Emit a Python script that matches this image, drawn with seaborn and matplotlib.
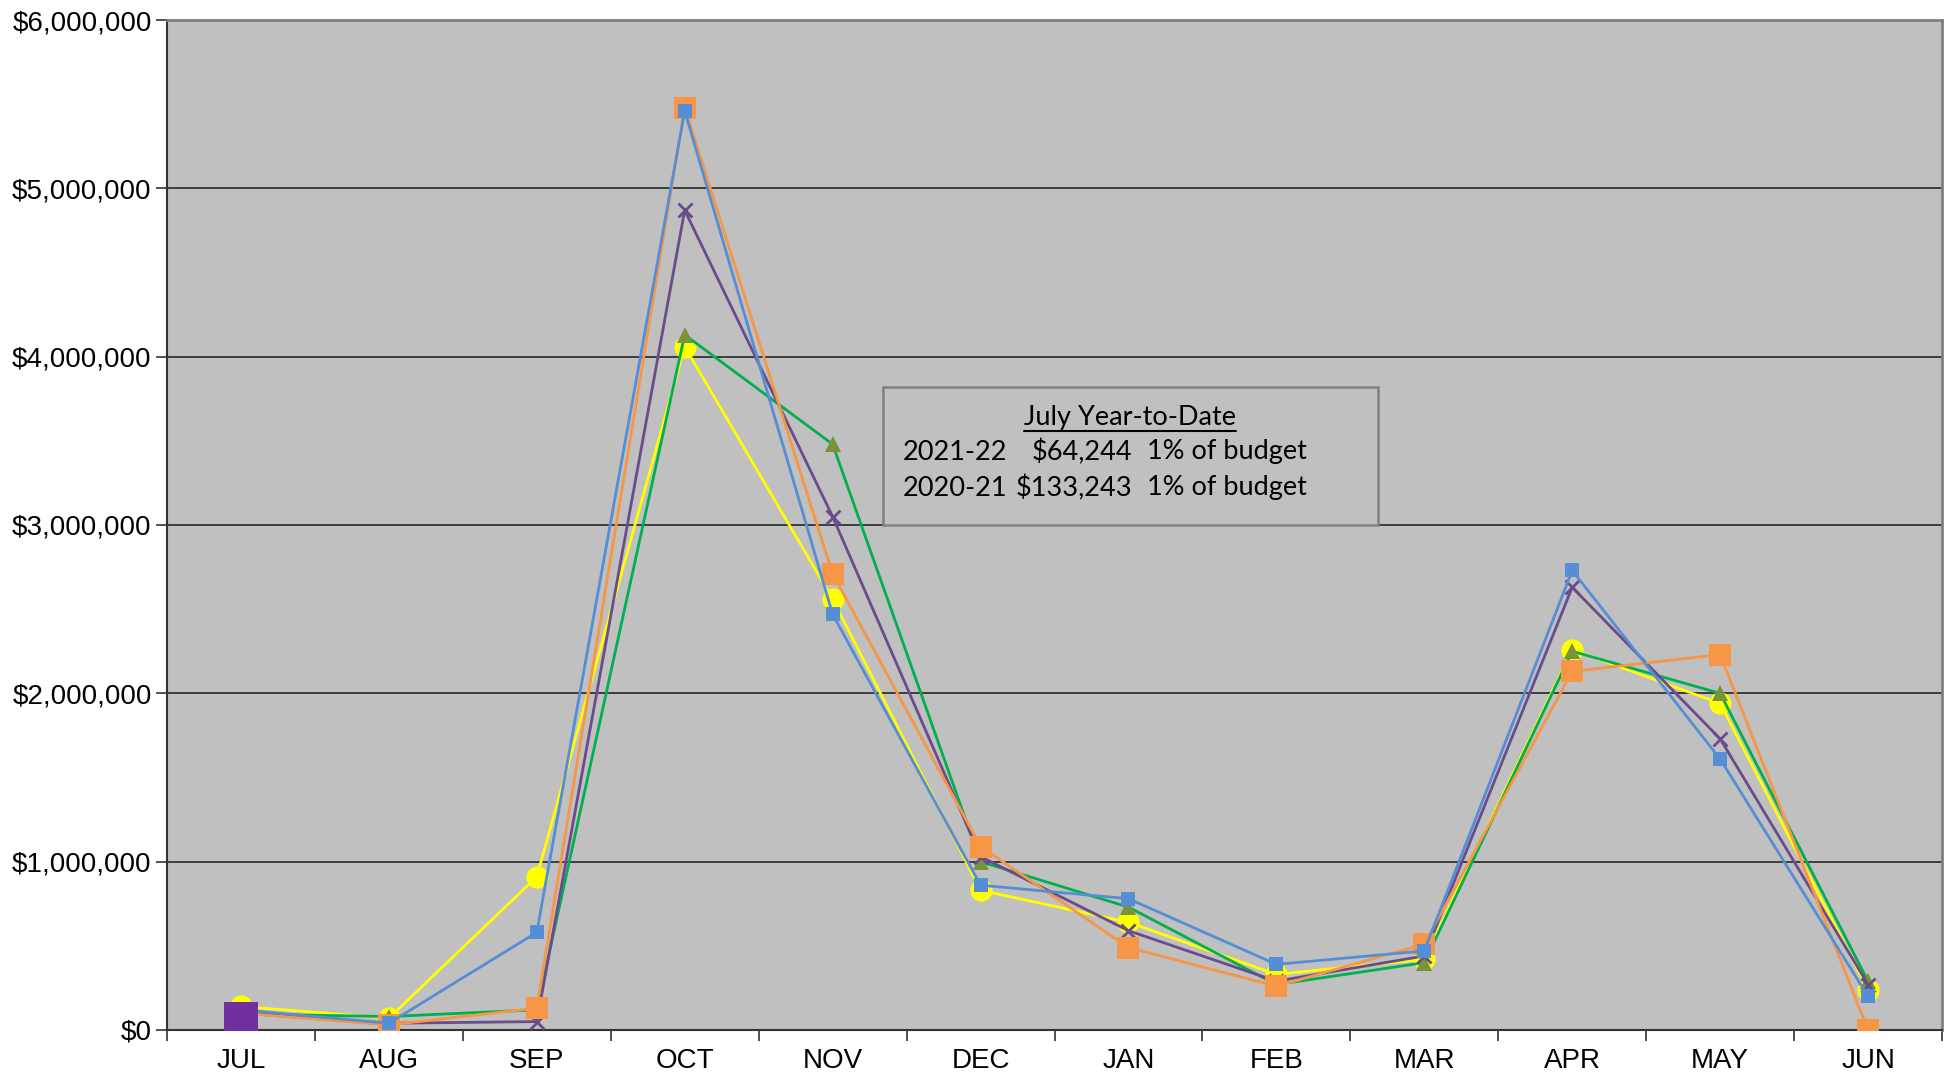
import numpy as np
import pandas as pd
import matplotlib
matplotlib.use("Agg")
import matplotlib.pyplot as plt
import seaborn as sns
from matplotlib.patches import Rectangle
from matplotlib.lines import Line2D
from matplotlib.ticker import FuncFormatter, FixedLocator

months = ["JUL", "AUG", "SEP", "OCT", "NOV", "DEC", "JAN", "FEB", "MAR", "APR", "MAY", "JUN"]

# values in dollars
yellow_circle = [140000, 70000, 910000, 4060000, 2560000, 830000, 640000, 330000, 420000, 2260000, 1940000, 240000]
green_triangle = [95000, 80000, 120000, 4130000, 3480000, 1000000, 730000, 270000, 400000, 2250000, 2000000, 290000]
purple_x = [100000, 40000, 50000, 4870000, 3050000, 1030000, 590000, 290000, 440000, 2630000, 1730000, 270000]
blue_square = [120000, 40000, 580000, 5460000, 2470000, 860000, 780000, 390000, 470000, 2730000, 1610000, 200000]
orange_square = [100000, 30000, 130000, 5480000, 2710000, 1090000, 490000, 260000, 510000, 2130000, 2230000, 0]
current_year = [64244]

box_title = "July Year-to-Date"
box_rows = [("2021-22", "$64,244", "1% of budget"), ("2020-21", "$133,243", "1% of budget")]

W, H = 1953, 1076
sns.set_theme(style="white")
plt.rcParams["font.family"] = ["Liberation Sans", "DejaVu Sans"]
fig = plt.figure(figsize=(W / 100, H / 100), dpi=100)
fig.patch.set_facecolor("white")
ax = fig.add_axes([167 / W, 1 - 1030 / H, (1942 - 167) / W, (1030 - 20) / H])
ax.set_facecolor("#C0C0C0")

x_idx = np.arange(len(months))

series = [
    (yellow_circle, "#FFFF00", "#FFFF00", "o", 16),
    (green_triangle, "#00B050", "#77933C", "^", 11),
    (purple_x, "#6A4C8C", "#6A4C8C", "x", 10),
    (orange_square, "#F79646", "#F79646", "s", 16),
    (blue_square, "#558ED5", "#558ED5", "s", 10.5),
]

# gridlines
for v in range(1, 6):
    ax.axhline(v * 1_000_000, color="#1a1a1a", lw=1.1, zorder=1)

for i, (vals, lc, mc, mk, ms) in enumerate(series):
    df = pd.DataFrame({"x": x_idx, "y": vals})
    sns.lineplot(data=df, x="x", y="y", ax=ax, sort=False, color=lc, lw=2.0,
                 marker=mk, markersize=ms, markerfacecolor=mc, markeredgecolor=mc,
                 markeredgewidth=2 if mk == "x" else 0, zorder=3 + i)

df_cur = pd.DataFrame({"x": x_idx[:len(current_year)], "y": current_year})
sns.lineplot(data=df_cur, x="x", y="y", ax=ax, color="#7030A0", marker="s", markersize=25,
             markeredgewidth=0, zorder=10)

ax.set_xlim(-0.5, len(months) - 0.5)
ax.set_ylim(0, 6_000_000)
ax.set_xlabel("")
ax.set_ylabel("")
ax.xaxis.set_major_locator(FixedLocator(x_idx))
ax.set_xticklabels(months)
ax.xaxis.set_minor_locator(FixedLocator(np.arange(-0.5, len(months), 1.0)))
ax.tick_params(axis="x", which="major", length=0, pad=13, labelsize=20, labelcolor="black")
ax.tick_params(axis="x", which="minor", length=8, width=1.2, color="#333333", bottom=True)
ax.yaxis.set_major_locator(FixedLocator(np.arange(0, 6_000_001, 1_000_000)))
ax.yaxis.set_major_formatter(FuncFormatter(lambda v, p: "${:,.0f}".format(v)))
ax.tick_params(axis="y", which="major", length=8, width=1.2, color="#333333", left=True,
               labelsize=20, labelcolor="black", pad=3)
for s in ["left", "bottom"]:
    ax.spines[s].set_color("#333333")
    ax.spines[s].set_linewidth(1.5)
for s in ["top", "right"]:
    ax.spines[s].set_color("#808080")
    ax.spines[s].set_linewidth(2)

# annotation box
def fx(px):
    return px / W

def fy(py):
    return 1 - py / H

box = Rectangle((fx(883), fy(525)), fx(1378) - fx(883), fy(387) - fy(525), transform=fig.transFigure,
                facecolor="#C0C0C0", edgecolor="#808080", lw=1.8, zorder=20)
fig.patches.append(box)
tfont = dict(family=["Lato", "DejaVu Sans"], fontsize=19.5, color="black", zorder=21)
title = fig.text(fx(1130), fy(417), box_title, ha="center", va="center", **tfont)
row_y = [452, 488]
for (yr, amt, pct), yy in zip(box_rows, row_y):
    fig.text(fx(903), fy(yy), yr, ha="left", va="center", **tfont)
    fig.text(fx(1132), fy(yy), amt, ha="right", va="center", **tfont)
    fig.text(fx(1147), fy(yy), pct, ha="left", va="center", **tfont)

fig.canvas.draw()
bb = title.get_window_extent(renderer=fig.canvas.get_renderer())
uy = fy(431)
fig.lines.append(Line2D([bb.x0 / W, bb.x1 / W], [uy, uy], transform=fig.transFigure,
                        color="black", lw=1.5, zorder=22))

fig.savefig("out.png", dpi=100, facecolor="white")
